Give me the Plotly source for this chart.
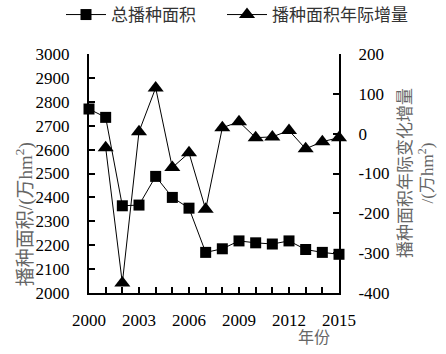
import plotly.graph_objects as go

years = list(range(2000, 2016))
total_area = [2770, 2735, 2365, 2368, 2488, 2400, 2355, 2170, 2185, 2218, 2210, 2205, 2218, 2182, 2170, 2162]
inc_years = list(range(2001, 2016))
increment = [-35, -375, 5, 115, -85, -48, -190, 15, 30, -10, -8, 8, -38, -20, -10]
xtick_vals = [2000, 2003, 2006, 2009, 2012, 2015]
y2_ticks = [-400, -300, -200, -100, 0, 100, 200]

SERIF = "Liberation Serif"
MIXED = "Liberation Serif, Noto Sans CJK SC"

fig = go.Figure()
fig.add_trace(go.Scatter(
    x=years, y=total_area, name="总播种面积", mode="lines+markers",
    line=dict(color="black", width=1),
    marker=dict(symbol="square", size=11, color="black"),
    cliponaxis=False, legend="legend",
))
fig.add_trace(go.Scatter(
    x=inc_years, y=increment, name="播种面积年际增量", mode="lines+markers", yaxis="y2",
    line=dict(color="black", width=1),
    marker=dict(symbol="triangle-up", size=14, color="black"),
    cliponaxis=False, legend="legend2",
))

leg_common = dict(orientation="h", yanchor="middle", xanchor="left", itemwidth=40,
                  xref="container", yref="container",
                  bgcolor="rgba(0,0,0,0)", font=dict(family=MIXED, size=17, color="#333"))

fig.update_layout(
    width=446, height=354,
    margin=dict(l=89, r=107, t=47, b=61),
    paper_bgcolor="white", plot_bgcolor="white",
    font=dict(family=SERIF, size=17, color="black"),
    showlegend=True,
    legend=dict(x=61 / 446, y=1 - 15 / 354, **leg_common),
    legend2=dict(x=222 / 446, y=1 - 15 / 354, **leg_common),
    xaxis=dict(range=[2000, 2015], tickmode="array", tickvals=years,
               ticktext=[str(y) if y in xtick_vals else "" for y in years],
               ticks="inside", ticklen=6, tickwidth=1.5, tickcolor="black",
               showline=True, linecolor="black", linewidth=2,
               showgrid=False, zeroline=False, ticklabelstandoff=11,
               tickfont=dict(family=SERIF, size=17, color="black")),
    yaxis=dict(range=[2000, 3000], dtick=100, ticks="inside", ticklen=6, tickwidth=1.5,
               tickcolor="black", showline=True, linecolor="black", linewidth=2,
               showgrid=False, zeroline=False, ticklabelstandoff=14,
               tickfont=dict(family=SERIF, size=17, color="black")),
    yaxis2=dict(range=[-400, 200], tickmode="array", tickvals=y2_ticks,
                ticktext=[str(v) for v in y2_ticks], overlaying="y", side="right",
                ticks="inside", ticklen=6, tickwidth=1.5, tickcolor="black",
                showline=True, linecolor="black", linewidth=2,
                showgrid=False, zeroline=False, ticklabelstandoff=14,
                tickfont=dict(family=SERIF, size=17, color="black")),
)

fig.add_annotation(text="播种面积/(万hm<sup>2</sup>)", xref="paper", yref="paper",
                   x=-0.26, y=0.33, textangle=-90, showarrow=False,
                   xanchor="center", yanchor="middle",
                   font=dict(family=MIXED, size=19, color="#666"))
fig.add_annotation(text="播种面积年际变化增量<br>/(万hm<sup>2</sup>)", xref="paper", yref="paper",
                   x=1.31, y=0.5, textangle=-90, showarrow=False,
                   xanchor="center", yanchor="middle",
                   font=dict(family=MIXED, size=17, color="#666"))
fig.add_annotation(text="年份", xref="paper", yref="paper",
                   x=0.9, y=-0.185, showarrow=False, xanchor="center", yanchor="middle",
                   font=dict(family=MIXED, size=16, color="#666"))

fig.write_html("out.html")
